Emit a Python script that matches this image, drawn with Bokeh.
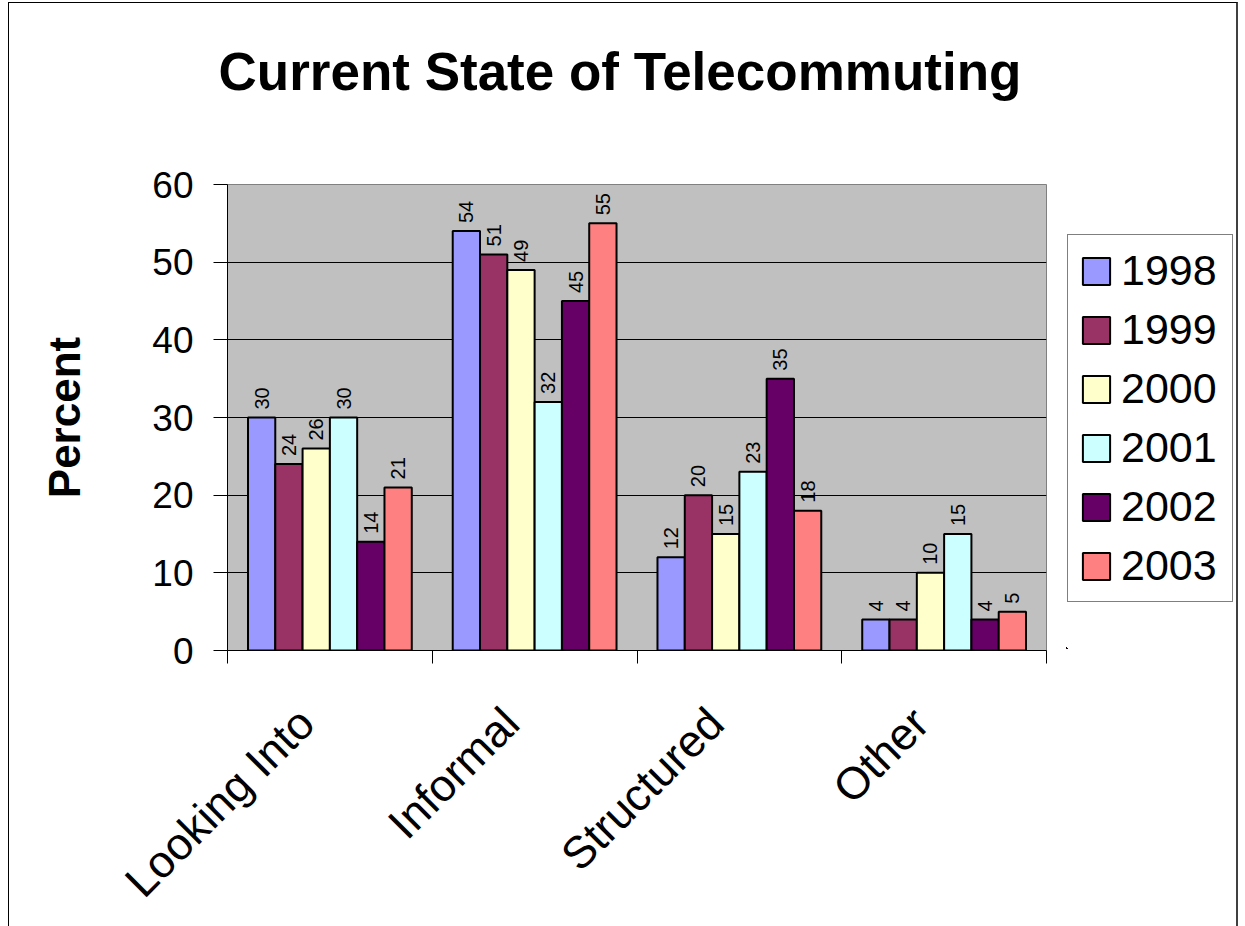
import math
from bokeh.plotting import figure
from bokeh.layouts import row
from bokeh.models import Range1d, FixedTicker, Legend, LegendItem, ColumnDataSource
from bokeh.core.properties import value
from bokeh.embed import file_html
from bokeh.resources import INLINE

# ---- data ----
categories = ["Looking Into", "Informal", "Structured", "Other"]
years = ["1998", "1999", "2000", "2001", "2002", "2003"]
v1998 = [30, 54, 12, 4]
v1999 = [24, 51, 20, 4]
v2000 = [26, 49, 15, 10]
v2001 = [30, 32, 23, 15]
v2002 = [14, 45, 35, 4]
v2003 = [21, 55, 18, 5]
y_ticks = [0, 10, 20, 30, 40, 50, 60]

series = [v1998, v1999, v2000, v2001, v2002, v2003]
colors = ["#9999FF", "#993366", "#FFFFCC", "#CCFFFF", "#660066", "#FF8080"]
FONT = "Liberation Sans"

p = figure(frame_width=819, frame_height=466, x_range=Range1d(0, len(categories)),
           y_range=Range1d(0, 60), output_backend="svg", toolbar_location=None,
           min_border_left=218, min_border_right=20, min_border_top=181,
           min_border_bottom=275, title="Current State of Telecommuting\n ")

p.background_fill_color = "#C0C0C0"
p.border_fill_color = "white"
p.outline_line_color = "#808080"
p.outline_line_width = 1

p.title.text_font = FONT
p.title.text_font_size = "53px"
p.title.text_font_style = "bold"
p.title.text_color = "black"
p.title.align = "left"
p.title.offset = -9
p.title.standoff = 50

# legend canvas to the right of the plot area; its view range lies away from the
# data so its key renderers draw only the legend swatches
pl = figure(width=170, height=922, x_range=Range1d(100, 101), y_range=Range1d(100, 101),
            output_backend="svg", toolbar_location=None, min_border=0,
            x_axis_type=None, y_axis_type=None)
pl.grid.visible = False
pl.outline_line_color = None
pl.background_fill_color = "white"
pl.border_fill_color = "white"

# bars
group_frac = 0.8
n = len(years)
w = group_frac / n
items = []
for j, (yr, vals, col) in enumerate(zip(years, series, colors)):
    xs = [i + (1 - group_frac) / 2 + (j + 0.5) * w for i in range(len(categories))]
    src = ColumnDataSource(dict(x=xs, top=vals, lab=[str(v) for v in vals]))
    p.vbar(x="x", top="top", width=w, bottom=0, source=src, fill_color=col,
           line_color="black", line_width=2)
    p.text(x="x", y="top", text="lab", source=src, angle=math.pi / 2,
           text_align="left", text_baseline="middle", y_offset=-8,
           text_font=value(FONT), text_font_size="20px", text_color="black")
    lr = pl.vbar(x="x", top="top", width=w, bottom=0, source=src, fill_color=col,
                 line_color="black", line_width=2)
    items.append(LegendItem(label=yr, renderers=[lr]))

legend = Legend(items=items, location=(1, 46))
legend.margin = 0
legend.label_text_font = FONT
legend.label_text_font_size = "43px"
legend.label_text_color = "black"
legend.glyph_width = 34
legend.glyph_height = 34
legend.label_standoff = 8
legend.label_height = 46
legend.label_width = 100
legend.padding = 11
legend.spacing = 10
legend.border_line_color = "black"
legend.border_line_width = 1
legend.background_fill_color = "white"
legend.background_fill_alpha = 1
pl.add_layout(legend)

# axes
p.xgrid.visible = False
p.ygrid.ticker = FixedTicker(ticks=y_ticks)
p.ygrid.grid_line_color = "black"
p.ygrid.grid_line_width = 1

p.yaxis.ticker = FixedTicker(ticks=y_ticks)
p.yaxis.major_tick_out = 14
p.yaxis.major_tick_in = 0
p.yaxis.minor_tick_out = 0
p.yaxis.major_label_standoff = 20
p.yaxis.major_label_text_font = FONT
p.yaxis.major_label_text_font_size = "37px"
p.yaxis.major_label_text_color = "black"
p.yaxis.axis_line_color = "black"
p.yaxis.major_tick_line_color = "black"
p.yaxis.axis_label = "Percent"
p.yaxis.axis_label_text_font = FONT
p.yaxis.axis_label_text_font_size = "44px"
p.yaxis.axis_label_text_font_style = "bold"
p.yaxis.axis_label_text_color = "black"
p.yaxis.axis_label_standoff = 60

label_pos = [i + 0.5 - 0.115 for i in range(len(categories))]
p.xaxis.ticker = FixedTicker(ticks=label_pos, minor_ticks=list(range(len(categories) + 1)))
p.xaxis.major_label_overrides = {c: name for c, name in zip(label_pos, categories)}
p.xaxis.major_tick_out = 0
p.xaxis.major_tick_in = 0
p.xaxis.minor_tick_out = 13
p.xaxis.minor_tick_in = 0
p.xaxis.minor_tick_line_color = "black"
p.xaxis.axis_line_color = "black"
p.xaxis.major_label_orientation = math.pi / 4
p.xaxis.major_label_standoff = 52
p.xaxis.major_label_text_font = FONT
p.xaxis.major_label_text_font_size = "45px"
p.xaxis.major_label_text_color = "black"

layout = row(p, pl, spacing=0)
layout.margin = (2, 0, 0, 8)
layout.styles = {"border-top": "1px solid #000000", "border-left": "1px solid #000000",
                 "border-right": "2px solid #404040"}

open("out.html", "w").write(file_html(layout, INLINE))
